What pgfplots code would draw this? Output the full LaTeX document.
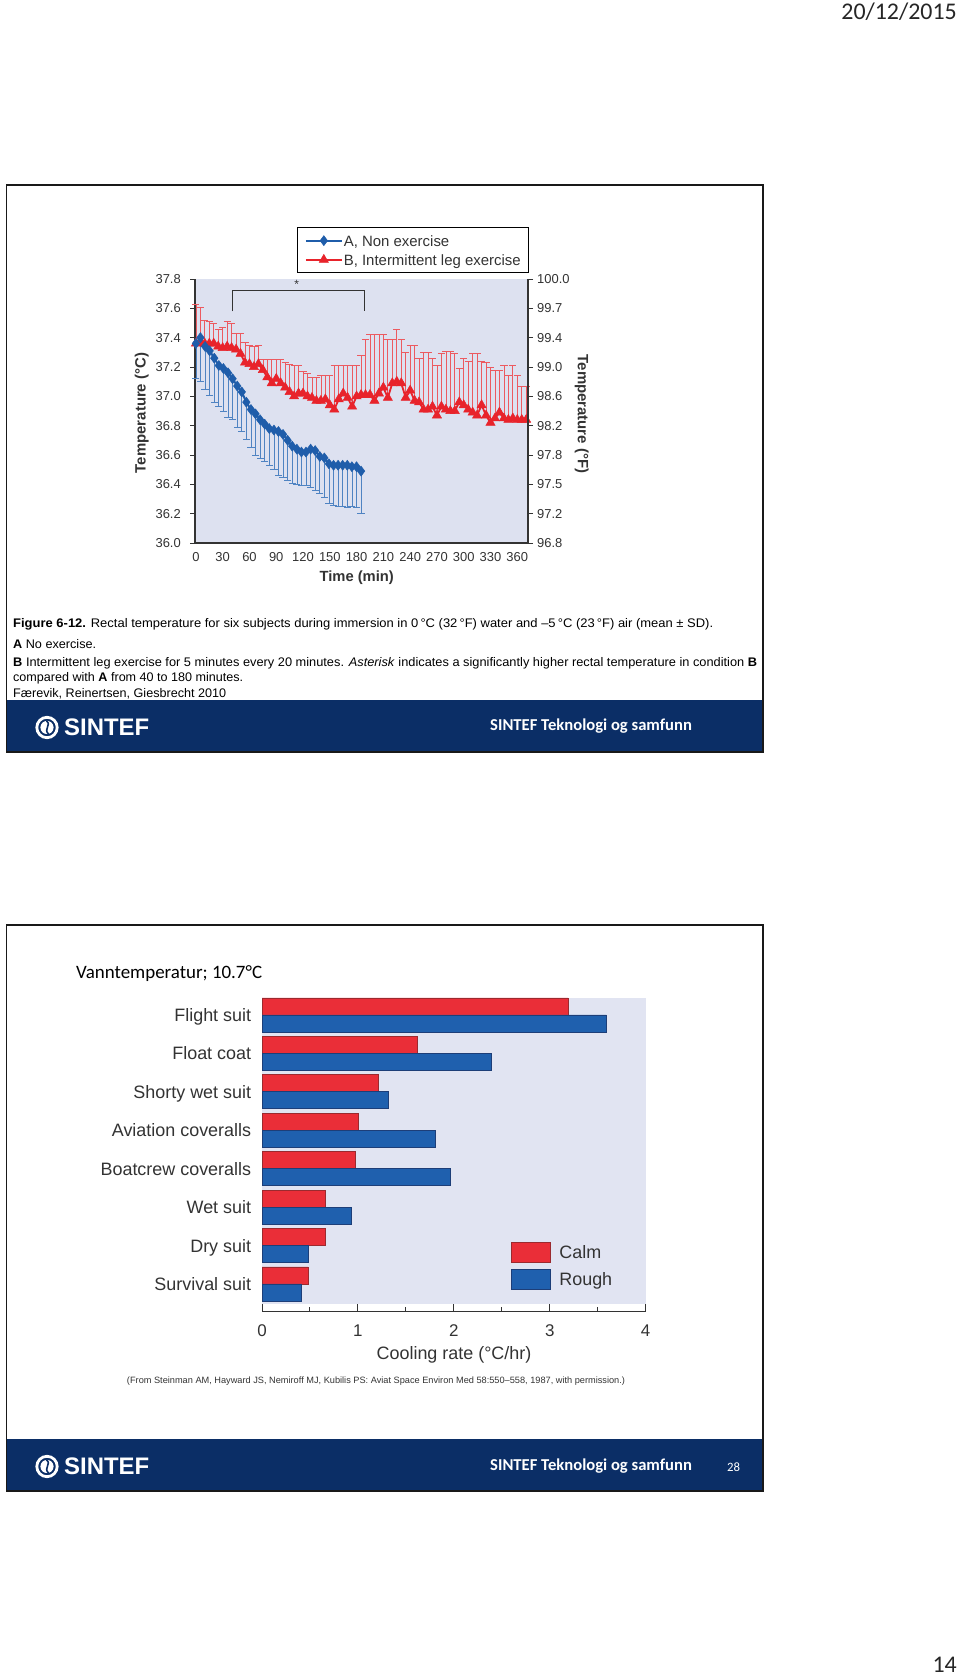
\documentclass[border=0pt]{standalone}
\usepackage{pgfplots}
\pgfplotsset{compat=1.18}
\usepackage{pgfplotstable}
\usepackage{graphicx}
\usepackage{fontspec}
\setmainfont{Liberation Sans}
\newfontfamily\carlito{Carlito}
\pgfplotsset{/pgf/number format/assume math mode=true}

\definecolor{navy}{HTML}{0B2E66}
\definecolor{bglav}{HTML}{DDE1F0}
\definecolor{bglavb}{HTML}{E1E4F2}
\definecolor{serblue}{HTML}{1F5DAA}
\definecolor{errblue}{HTML}{4F83C2}
\definecolor{serred}{HTML}{E8232B}
\definecolor{errred}{HTML}{EC5A60}
\definecolor{calmred}{HTML}{EA2E38}
\definecolor{calmdark}{HTML}{9B2A2F}
\definecolor{roughblue}{HTML}{1F60AE}
\definecolor{roughdark}{HTML}{1D3E78}
\definecolor{txt}{HTML}{333333}

\pgfplotstableread{
t T e
0 37.36 0.24
5.1 37.40 0.30
10.3 37.34 0.29
15.4 37.31 0.30
20.6 37.26 0.30
25.7 37.21 0.28
30.8 37.19 0.29
36.0 37.16 0.30
41.1 37.12 0.28
46.3 37.07 0.28
51.4 37.03 0.27
56.5 36.96 0.25
61.7 36.91 0.26
66.8 36.88 0.28
72.0 36.84 0.26
77.1 36.81 0.25
82.2 36.78 0.25
87.4 36.77 0.27
92.5 36.76 0.30
97.6 36.74 0.29
102.8 36.70 0.27
107.9 36.66 0.25
113.1 36.64 0.24
118.2 36.62 0.23
123.3 36.62 0.23
128.5 36.64 0.26
133.6 36.63 0.27
138.8 36.59 0.25
143.9 36.58 0.27
149.0 36.54 0.27
154.2 36.53 0.27
159.3 36.53 0.28
164.4 36.53 0.28
169.6 36.53 0.29
174.7 36.52 0.27
179.9 36.52 0.28
185.0 36.49 0.29
}\bluedata

\pgfplotstableread{
t T e
0 37.36 0.27
5 37.37 0.24
10 37.36 0.16
15 37.36 0.15
20 37.36 0.14
25 37.34 0.12
30 37.33 0.14
35 37.34 0.17
40 37.33 0.17
45 37.32 0.11
50 37.29 0.14
55 37.23 0.14
60 37.22 0.13
65 37.20 0.14
70 37.22 0.13
75 37.18 0.07
80 37.13 0.12
85 37.09 0.16
90 37.12 0.13
95 37.09 0.16
100 37.06 0.17
105 37.03 0.19
110 37.00 0.21
115 37.02 0.19
120 37.02 0.15
125 37.00 0.16
130 36.99 0.14
135 36.97 0.16
140 36.97 0.17
145 36.98 0.16
150 36.94 0.20
155 36.91 0.30
160 36.98 0.23
165 37.02 0.19
170 36.99 0.22
175 36.93 0.28
180 37.00 0.21
185 37.01 0.27
190 37.01 0.38
195 37.01 0.41
200 36.97 0.45
205 37.02 0.40
210 37.06 0.36
215 36.99 0.40
220 37.09 0.30
225 37.10 0.36
230 37.09 0.30
235 36.99 0.31
240 37.04 0.31
245 36.97 0.38
250 36.96 0.30
255 36.91 0.39
260 36.91 0.39
265 36.93 0.33
270 36.87 0.34
275 36.93 0.36
280 36.91 0.40
285 36.90 0.41
290 36.90 0.39
295 36.96 0.23
300 36.94 0.32
305 36.91 0.33
310 36.89 0.40
315 36.87 0.42
320 36.94 0.30
325 36.87 0.36
330 36.82 0.38
335 36.85 0.33
340 36.89 0.29
345 36.85 0.36
350 36.84 0.30
355 36.85 0.36
360 36.84 0.30
365 36.84 0.23
370 36.84 0.23
}\reddata

\newcommand{\sinteflogo}[2]{%
  \draw[white,line width=2.8bp] (#1bp,#2bp) circle (10.2bp);
  \fill[white] (#1bp,#2bp) circle (6.6bp);
  \draw[navy, line width=1.6bp] (#1bp-0.5bp,#2bp+6.6bp) .. controls (#1bp+5bp,#2bp+2.5bp) and (#1bp-4bp,#2bp-1.5bp) .. (#1bp+1.5bp,#2bp-6.5bp);
}

\begin{document}
\begin{tikzpicture}
\path[use as bounding box, fill=white] (0,0) rectangle (960bp,1676bp);

% header / page number
\node[anchor=base east, inner sep=0pt, font=\carlito\fontsize{24}{28}\selectfont, text=black!85] at (957bp,1656bp) {20/12/2015};
\node[anchor=base east, inner sep=0pt, font=\carlito\fontsize{24}{28}\selectfont, text=black!85] at (957bp,4bp) {14};

% ---------------- top slide ----------------
\fill[navy] (6.5bp,924bp) rectangle (763bp,976bp);
\draw[line width=1.8bp, black!90] (6.5bp,924bp) rectangle (763bp,1491bp);
\sinteflogo{47}{948.5}
\node[anchor=base west, inner sep=0pt, text=white, font=\bfseries\fontsize{24}{26}\selectfont] at (64bp,940.3bp) {SINTEF};
\node[anchor=base west, inner sep=0pt, text=white, font=\carlito\bfseries\fontsize{16.7}{19}\selectfont] at (490bp,945bp) {SINTEF Teknologi og samfunn};

% caption
\node[anchor=base west, inner sep=0pt, font=\fontsize{12.5}{14}\selectfont] at (13bp,1048.5bp) {\resizebox{700bp}{\height}{\textbf{Figure 6-12.} Rectal temperature for six subjects during immersion in 0\,°C (32\,°F) water and –5\,°C (23\,°F) air (mean ± SD).}};
\node[anchor=base west, inner sep=0pt, font=\fontsize{12.5}{14}\selectfont] at (13bp,1027.5bp) {\resizebox{83bp}{\height}{\textbf{A} No exercise.}};
\node[anchor=base west, inner sep=0pt, font=\fontsize{12.5}{14}\selectfont] at (13bp,1009.5bp) {\resizebox{744bp}{\height}{\textbf{B} Intermittent leg exercise for 5 minutes every 20 minutes. \textit{Asterisk} indicates a significantly higher rectal temperature in condition \textbf{B}}};
\node[anchor=base west, inner sep=0pt, font=\fontsize{12.5}{14}\selectfont] at (13bp,994.5bp) {\resizebox{230bp}{\height}{compared with \textbf{A} from 40 to 180 minutes.}};
\node[anchor=base west, inner sep=0pt, font=\fontsize{12.5}{14}\selectfont] at (13bp,978.8bp) {\resizebox{213bp}{\height}{Færevik, Reinertsen, Giesbrecht 2010}};

% axis titles of top chart
\node[rotate=90, text=txt, font=\bfseries\fontsize{15}{17}\selectfont] at (141.7bp,1263bp) {Temperature (°C)};
\node[rotate=-90, text=txt, font=\bfseries\fontsize{15}{17}\selectfont] at (581.7bp,1262bp) {Temperature (°F)};
\node[text=txt, font=\bfseries\fontsize{14.8}{17}\selectfont] at (356.7bp,1098.3bp) {Time (min)};

\begin{axis}[
  at={(195bp,1133bp)}, anchor=south west,
  scale only axis, width=333bp, height=264bp,
  xmin=-1, xmax=372, ymin=36, ymax=37.8,
  clip=false,
  axis background/.style={fill=bglav},
  axis x line*=bottom, axis y line*=left,
  axis line style={-, line width=1.2bp, draw=black!80},
  xtick={0,30,...,360},
  ytick={36,36.2,36.4,36.6,36.8,37,37.2,37.4,37.6,37.8},
  yticklabels={36.0,36.2,36.4,36.6,36.8,37.0,37.2,37.4,37.6,37.8},
  tick align=outside, major tick length=5bp,
  ytick style={line width=0.9bp, draw=black!80},
  xtick style={draw=none},
  ticklabel style={text=txt, font=\fontsize{13}{15}\selectfont},
  xticklabel style={inner sep=0pt, yshift=-4.5bp},
  yticklabel style={inner sep=0pt, xshift=-9bp},
  reverse legend,
  legend cell align=left,
  legend style={at={(1.004,1.196)}, anchor=north east, draw=black, line width=1.2bp, fill=white,
    inner xsep=7bp, inner ysep=6.4bp, row sep=6.2bp, font=\fontsize{15}{17}\selectfont,
    nodes={inner sep=1bp, text depth=0pt, text=txt}},
  legend image code/.code={\draw[mark repeat=2,mark phase=2,#1] plot coordinates {(0bp,0bp) (18bp,0bp) (36bp,0bp)};},
]
\addplot[color=serred, line width=1.8bp, mark=triangle*, mark size=5.3bp,
  mark options={fill=serred, draw=serred, line width=0.5bp},
  error bars/.cd, y dir=plus, y explicit,
  error bar style={color=errred, line width=0.7bp},
  error mark options={rotate=90, color=errred, line width=0.7bp, mark size=3.6bp}]
  table[x=t, y=T, y error plus=e] {\reddata};
\addlegendentry{B, Intermittent leg exercise}
\addplot[color=serblue, line width=2bp, mark=diamond*, mark size=5bp,
  mark options={fill=serblue, draw=serblue, line width=0.5bp},
  error bars/.cd, y dir=minus, y explicit,
  error bar style={color=errblue, line width=0.7bp},
  error mark options={rotate=90, color=errblue, line width=0.7bp, mark size=3.6bp}]
  table[x=t, y=T, y error minus=e] {\bluedata};
\addlegendentry{A, Non exercise}
\draw[black!80, line width=1.1bp] (axis cs:41,37.58) -- (axis cs:41,37.72) -- (axis cs:189,37.72) -- (axis cs:189,37.58);
\node[text=txt, font=\fontsize{12}{14}\selectfont] at (axis cs:113,37.765) {*};
\end{axis}

\begin{axis}[
  at={(195bp,1133bp)}, anchor=south west,
  scale only axis, width=333bp, height=264bp,
  xmin=-1, xmax=372, ymin=36, ymax=37.8,
  axis x line=none, axis y line*=right,
  axis line style={-, line width=1.2bp, draw=black!80},
  ytick={36,36.2,36.4,36.6,36.8,37,37.2,37.4,37.6,37.8},
  yticklabels={96.8,97.2,97.5,97.8,98.2,98.6,99.0,99.4,99.7,100.0},
  tick align=outside, major tick length=5bp,
  ytick style={line width=0.9bp, draw=black!80},
  ticklabel style={text=txt, font=\fontsize{13}{15}\selectfont},
  yticklabel style={inner sep=0pt, xshift=4bp},
]
\addplot[draw=none] coordinates {(0,36)};
\end{axis}

% ---------------- bottom slide ----------------
\fill[navy] (6.5bp,185bp) rectangle (763bp,237bp);
\draw[line width=1.8bp, black!90] (6.5bp,185bp) rectangle (763bp,751bp);
\sinteflogo{47}{209.5}
\node[anchor=base west, inner sep=0pt, text=white, font=\bfseries\fontsize{24}{26}\selectfont] at (64bp,201.3bp) {SINTEF};
\node[anchor=base west, inner sep=0pt, text=white, font=\carlito\bfseries\fontsize{16.7}{19}\selectfont] at (490bp,205bp) {SINTEF Teknologi og samfunn};
\node[anchor=base west, inner sep=0pt, text=white, font=\carlito\fontsize{12.8}{15}\selectfont] at (727bp,204bp) {28};

\node[anchor=base west, inner sep=0pt, text=black, font=\carlito\fontsize{19}{22}\selectfont] at (76bp,697bp) {Vanntemperatur; 10.7°C};

\fill[bglavb] (262bp,372bp) rectangle (645.7bp,678bp);

\begin{axis}[
  at={(262bp,364.3bp)}, anchor=south west,
  scale only axis, width=383.7bp, height=313.7bp,
  xmin=0, xmax=4, ymin=-0.721, ymax=7.442,
  xbar, bar width=17bp,
  axis x line*=bottom, axis y line*=left,
  x axis line style={-, line width=1.2bp, draw=black!80},
  y axis line style={draw=none},
  ytick={0,...,7},
  yticklabels={Survival suit, Dry suit, Wet suit, Boatcrew coveralls, Aviation coveralls, Shorty wet suit, Float coat, Flight suit},
  ytick style={draw=none},
  xtick={0,1,2,3,4}, minor xtick={0.5,1.5,2.5,3.5},
  tick align=inside, major tick length=7.7bp, minor tick length=5bp,
  xtick style={line width=1bp, draw=black!80},
  minor x tick style={line width=1bp, draw=black!80},
  ticklabel style={text=txt},
  xticklabel style={inner sep=0pt, yshift=-13bp, font=\fontsize{17}{19}\selectfont},
  yticklabel style={inner sep=0pt, anchor=base east, xshift=-10.7bp, yshift=-6.5bp, font=\fontsize{18}{20}\selectfont},
  legend cell align=left,
  legend style={at={(0.6476,0.2222)}, anchor=north west, draw=none, fill=none,
    inner sep=0pt, row sep=6.3bp, font=\fontsize{18}{20}\selectfont,
    nodes={inner sep=0pt, text=txt},
    /tikz/every odd column/.append style={column sep=9bp}},
  legend image code/.code={\draw[#1] (0bp,-10bp) rectangle (39bp,10bp);},
]
\addplot[fill=calmred, draw=calmdark, line width=0.7bp, bar shift=8.5bp]
  coordinates {(0.48,0) (0.66,1) (0.66,2) (0.97,3) (1.00,4) (1.21,5) (1.62,6) (3.19,7)};
\addlegendentry{Calm}
\addplot[fill=roughblue, draw=roughdark, line width=0.7bp, bar shift=-8.5bp]
  coordinates {(0.41,0) (0.48,1) (0.93,2) (1.96,3) (1.81,4) (1.32,5) (2.39,6) (3.59,7)};
\addlegendentry{Rough}
\end{axis}

\node[anchor=base, inner sep=0pt, text=txt, font=\fontsize{18}{20}\selectfont] at (454bp,316bp) {Cooling rate (°C/hr)};
\node[anchor=base, inner sep=0pt, text=txt, font=\fontsize{9.2}{10}\selectfont] at (376bp,292bp) {\resizebox{498bp}{\height}{(From Steinman AM, Hayward JS, Nemiroff MJ, Kubilis PS: Aviat Space Environ Med 58:550–558, 1987, with permission.)}};

\end{tikzpicture}
\end{document}
